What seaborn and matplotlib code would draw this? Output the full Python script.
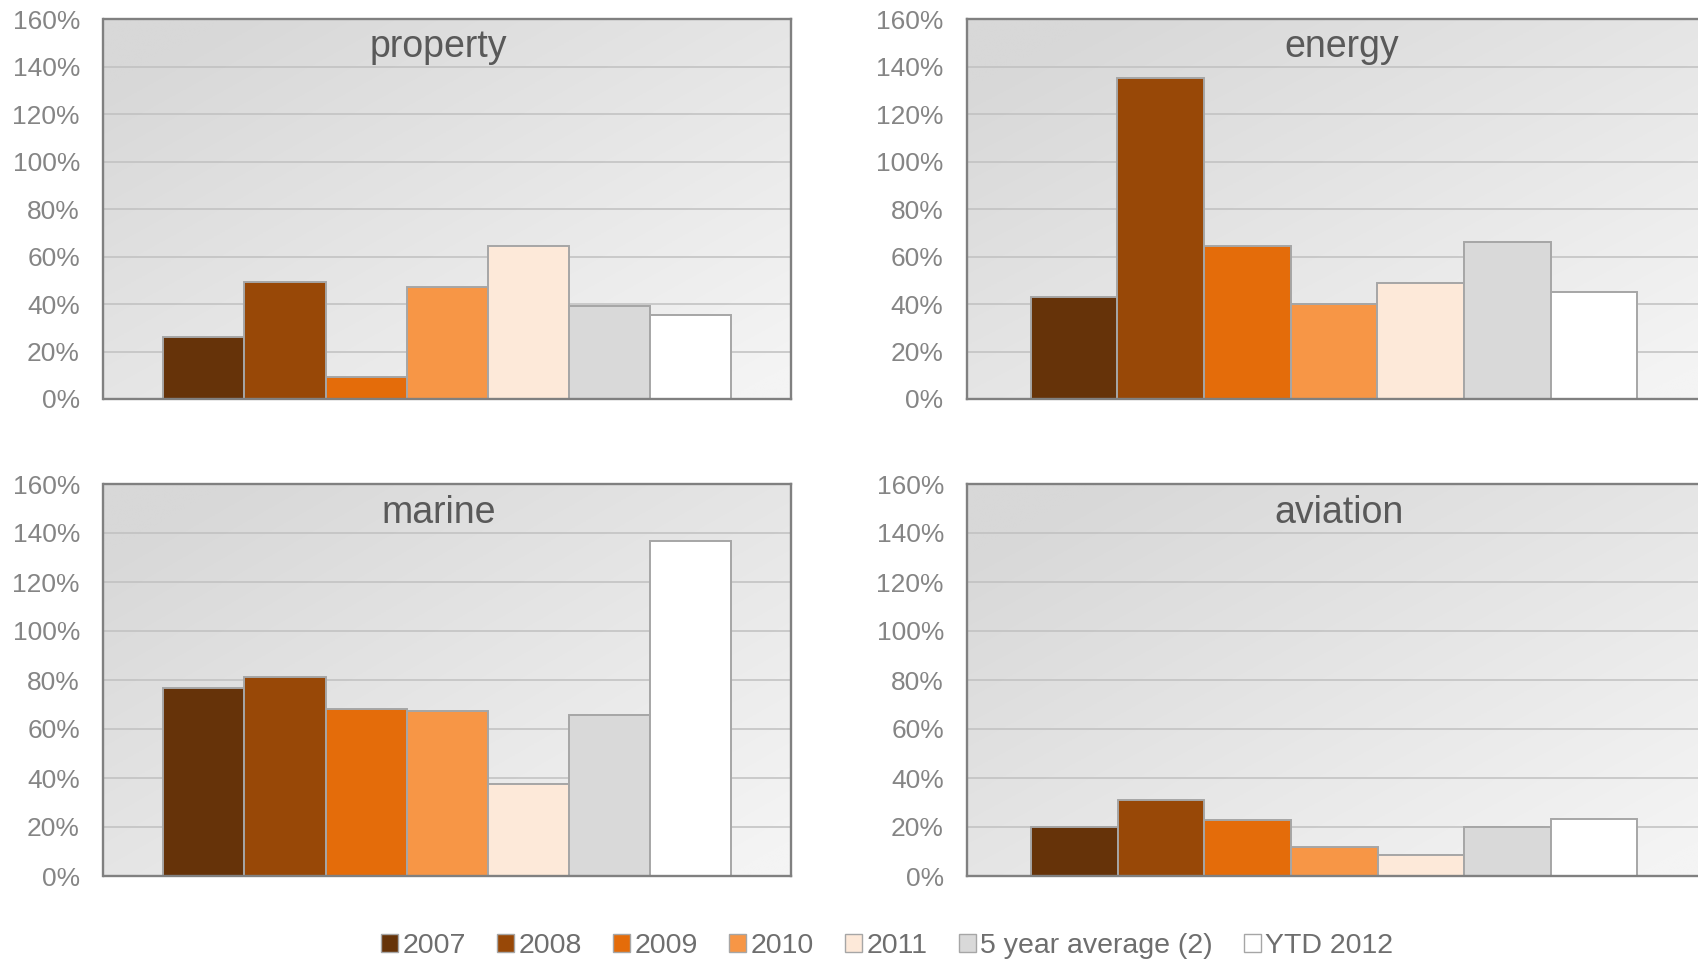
import numpy as np
import pandas as pd
import matplotlib
matplotlib.use("Agg")
import matplotlib.pyplot as plt
from matplotlib.patches import Rectangle
from matplotlib.ticker import PercentFormatter, MultipleLocator
from matplotlib.colors import LinearSegmentedColormap
import seaborn as sns

# ---- data -------------------------------------------------------------
lines = ["property", "energy", "marine", "aviation"]
periods = ["2007", "2008", "2009", "2010", "2011", "5 year average (2)", "YTD 2012"]

property_vals = [26.0, 49.3, 9.1, 47.2, 64.5, 39.0, 35.5]
energy_vals = [42.8, 135.5, 64.6, 40.2, 49.0, 66.3, 45.1]
marine_vals = [76.7, 81.4, 68.3, 67.4, 37.6, 65.7, 136.9]
aviation_vals = [20.1, 31.1, 22.7, 11.7, 8.6, 20.0, 23.4]

period_colors = ["#663309", "#984807", "#e46c0a", "#f79646",
                 "#fde9d9", "#d9d9d9", "#ffffff"]

values = {"property": property_vals, "energy": energy_vals,
          "marine": marine_vals, "aviation": aviation_vals}

df = pd.DataFrame(
    [(ln, p, v) for ln in lines for p, v in zip(periods, values[ln])],
    columns=["line", "period", "ratio"],
)

# ---- style ------------------------------------------------------------
sns.set_theme(style="white")
plt.rcParams["font.family"] = ["Liberation Sans", "DejaVu Sans"]

TICK_GREY = "#858585"
TITLE_GREY = "#595959"
FRAME_GREY = "#808080"
EDGE_GREY = "#a6a6a6"

fig = plt.figure(figsize=(16.99, 9.64), dpi=100)

W, H = 1699.0, 964.0
# panel boxes in pixels: left, right, top, bottom, title x (axes fraction)
boxes = {
    "property": (103.5, 791.0, 19.5, 399.0, 0.487),
    "energy": (967.0, 1701.0, 19.5, 399.0, 0.511),
    "marine": (103.5, 791.0, 484.0, 876.0, 0.487),
    "aviation": (967.5, 1701.0, 484.0, 876.0, 0.506),
}

grad_cmap = LinearSegmentedColormap.from_list("bg", ["#d8d8d8", "#f4f4f4"])
gx, gy = np.meshgrid(np.linspace(0, 1, 256), np.linspace(0, 1, 256))
gradient = np.clip((gx + gy) / 2.0 * 1.15 - 0.1, 0, 1)  # row 0 at top

for ln in lines:
    l, r, t, b, tx = boxes[ln]
    ax = fig.add_axes([l / W, 1 - b / H, (r - l) / W, (b - t) / H])

    ax.imshow(gradient, cmap=grad_cmap, vmin=0, vmax=1, aspect="auto",
              extent=[0, 1, 0, 1], transform=ax.transAxes, zorder=0,
              interpolation="bilinear")

    sns.barplot(data=df[df["line"] == ln], x="line", y="ratio",
                hue="period", hue_order=periods, palette=period_colors,
                saturation=1, width=0.826, gap=0, edgecolor=EDGE_GREY,
                linewidth=1.4, legend=False, ax=ax, zorder=2)

    ax.set_xlim(-0.5, 0.5)
    ax.set_ylim(0, 160)
    ax.yaxis.set_major_locator(MultipleLocator(20))
    ax.yaxis.set_major_formatter(PercentFormatter(xmax=100, decimals=0))
    ax.yaxis.grid(True, color="#c0c0c0", linewidth=1.1, zorder=1)
    ax.set_axisbelow(True)
    ax.set_xticks([])
    ax.set_xlabel("")
    ax.set_ylabel("")
    ax.tick_params(axis="y", length=0, pad=17, labelsize=19,
                   labelcolor=TICK_GREY)
    for side, sp in ax.spines.items():
        sp.set_visible(True)
        sp.set_color(FRAME_GREY)
        sp.set_linewidth(1.7)
        sp.set_zorder(3)

    ax.text(tx, 0.90, ln, transform=ax.transAxes, ha="center",
            va="baseline", fontsize=27, color=TITLE_GREY, zorder=4)

handles = [Rectangle((0, 0), 1, 1, facecolor=c, edgecolor=EDGE_GREY,
                     linewidth=1.0) for c in period_colors]
fig.legend(handles, periods, loc="center",
           bbox_to_anchor=(887 / W, 1 - 946 / H), ncol=7, frameon=False,
           fontsize=20.5, labelcolor="#6e6e6e", handlelength=0.6,
           handleheight=0.6, handletextpad=0.15, columnspacing=1.1,
           borderpad=0)

fig.savefig("out.png", dpi=100)
